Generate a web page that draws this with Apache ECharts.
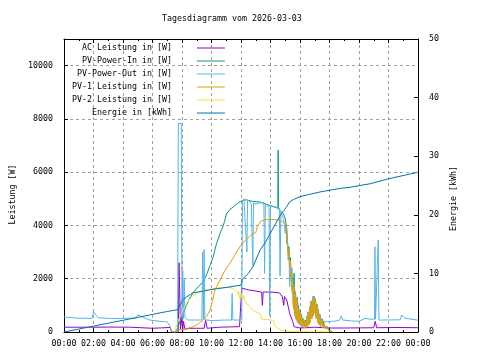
<!DOCTYPE html>
<html><head><meta charset="utf-8">
<script src="https://cdn.jsdelivr.net/npm/echarts@6/dist/echarts.min.js"></script>
<style>html,body{margin:0;padding:0;background:#fff}#c{width:480px;height:360px}</style>
</head><body><div id="c"></div>
<script>
const titleText = 'Tagesdiagramm vom 2026-03-03';
const seriesNames = ['AC Leistung in [W]','PV-Power-In in [W]','PV-Power-Out in [W]','PV-1 Leistung in [W]','PV-2 Leistung in [W]','Energie in [kWh]'];
const seriesColors = ['#9400d3','#009e73','#56b4e9','#e69f00','#f0e442','#0072b2'];
const xTickLabels = ['00:00','02:00','04:00','06:00','08:00','10:00','12:00','14:00','16:00','18:00','20:00','22:00','00:00'];
const leftAxisName = 'Leistung [W]';
const rightAxisName = 'Energie [kWh]';

// [hour, W]
const acPower = [[0,180],[2,180],[3,185],[4.5,180],[4.6,140],[6.0,140],[6.1,170],[7.2,170],[7.3,0],[7.75,0],[7.8,2600],[7.85,2550],[7.9,100],[8.0,600],[8.05,50],[8.1,400],[8.2,100],[8.5,140],[9.5,140],[9.6,450],[9.7,140],[10.5,180],[11.9,200],[12.0,200],[12.05,1650],[12.5,1580],[13.0,1540],[13.4,1500],[13.45,1000],[13.5,1500],[14.0,1500],[14.6,1470],[14.8,1330],[14.9,1000],[14.95,1330],[15.1,1200],[15.3,700],[15.5,400],[15.6,200],[16.0,150],[17.0,180],[18.0,150],[19.0,150],[21.0,160],[21.1,400],[21.2,160],[22.5,170],[22.6,140],[24,160]];
const pvIn = [[7.5,0],[7.64,75],[7.86,390],[8.0,600],[8.3,1000],[8.5,1250],[8.77,1480],[9.1,1700],[9.44,1890],[9.7,2200],[9.9,2500],[10.12,2830],[10.3,3250],[10.58,3700],[10.8,4000],[11.03,4450],[11.25,4600],[11.48,4700],[11.7,4800],[11.93,4890],[12.16,4950],[12.4,4960],[12.8,4900],[13.3,4880],[13.7,4800],[14.2,4700],[14.5,4650],[14.52,6830],[14.54,4620],[14.87,4450],[15.0,4250],[15.1,3900],[15.15,3400],[15.2,3000],[15.25,3200],[15.3,2600],[15.35,2800],[15.4,2100],[15.43,2400],[15.47,1600],[15.5,2000],[15.55,1000],[15.6,2200],[15.65,700],[15.7,1500],[15.75,500],[15.8,1300],[15.85,400],[15.9,1000],[15.95,350],[16.0,800],[16.05,300],[16.1,650],[16.15,250],[16.2,500],[16.3,200],[16.35,450],[16.4,200],[16.45,600],[16.5,250],[16.55,750],[16.6,300],[16.65,950],[16.7,400],[16.75,1150],[16.8,550],[16.85,1300],[16.9,650],[16.95,1350],[17.0,750],[17.05,1250],[17.1,550],[17.15,1050],[17.2,400],[17.25,850],[17.3,300],[17.35,650],[17.4,250],[17.5,500],[17.55,200],[17.6,380],[17.7,150],[17.8,230],[17.9,100],[18.0,120],[18.1,40],[18.2,0]];
const pvOut = [[0,560],[0.5,540],[1.0,520],[1.9,510],[2.0,760],[2.1,700],[2.3,540],[3.0,510],[4.0,510],[4.9,520],[5.0,640],[5.2,600],[5.5,520],[5.8,450],[6.5,400],[7.0,380],[7.2,200],[7.3,0],[7.7,0],[7.75,7830],[7.95,7830],[8.0,500],[8.05,2300],[8.1,500],[8.15,2000],[8.2,550],[8.4,450],[9.0,450],[9.35,450],[9.4,3000],[9.45,500],[9.5,3100],[9.55,460],[10.0,430],[11.0,450],[11.35,450],[11.4,1450],[11.45,450],[12.05,450],[12.1,4900],[12.2,5000],[12.3,4950],[12.4,3000],[12.45,4950],[12.6,4900],[12.7,4800],[12.8,2500],[12.85,4850],[13.0,4800],[13.3,4850],[13.55,4850],[13.6,2200],[13.65,4800],[13.9,4700],[13.95,600],[14.0,4750],[14.3,4700],[14.6,4650],[14.65,2100],[14.7,4500],[14.9,4200],[15.0,3700],[15.05,4000],[15.1,3300],[15.15,3500],[15.2,2700],[15.25,3000],[15.3,1700],[15.35,2600],[15.4,1900],[15.45,2400],[15.5,1400],[15.55,1800],[15.6,800],[15.65,1600],[15.7,500],[15.75,1300],[15.8,400],[15.85,1100],[15.9,300],[15.95,850],[16.0,250],[16.05,700],[16.1,200],[16.15,550],[16.2,200],[16.3,400],[16.4,200],[16.45,600],[16.5,250],[16.55,750],[16.6,300],[16.65,950],[16.7,400],[16.75,1150],[16.8,500],[16.85,1330],[16.9,650],[16.95,1350],[17.0,700],[17.05,1250],[17.1,550],[17.15,1050],[17.2,400],[17.25,850],[17.3,300],[17.35,650],[17.4,300],[17.5,500],[17.6,400],[17.7,420],[17.8,390],[18.0,390],[18.2,400],[18.5,420],[18.7,450],[18.8,600],[18.9,450],[19.4,420],[20.0,400],[20.4,510],[20.8,480],[21.05,480],[21.08,3200],[21.12,480],[21.25,480],[21.3,3450],[21.35,450],[22.0,450],[22.8,460],[22.9,640],[23.1,520],[23.9,450],[24,450]];
const pv1 = [[7.3,0],[7.6,30],[7.86,75],[8.3,130],[8.77,200],[9.1,300],[9.44,450],[9.7,620],[9.9,825],[10.05,1150],[10.24,1580],[10.58,1950],[10.9,2300],[11.25,2580],[11.6,2900],[11.93,3200],[12.3,3450],[12.6,3600],[12.83,3700],[13.0,3720],[13.1,3950],[13.3,4130],[13.5,4200],[13.97,4230],[14.3,4220],[14.64,4200],[14.98,4080],[15.1,3830],[15.15,3300],[15.2,2900],[15.25,3100],[15.3,2500],[15.35,2700],[15.4,2000],[15.43,2300],[15.47,1500],[15.5,1900],[15.55,900],[15.6,1700],[15.65,600],[15.7,1400],[15.75,450],[15.8,1200],[15.85,350],[15.9,900],[15.95,300],[16.0,750],[16.05,250],[16.1,600],[16.15,200],[16.2,450],[16.3,150],[16.35,400],[16.4,150],[16.45,550],[16.5,200],[16.55,700],[16.6,250],[16.65,900],[16.7,350],[16.75,1100],[16.8,500],[16.85,1250],[16.9,600],[16.95,1300],[17.0,700],[17.05,1200],[17.1,500],[17.15,1000],[17.2,350],[17.25,800],[17.3,250],[17.35,600],[17.4,200],[17.5,450],[17.55,150],[17.6,330],[17.7,120],[17.8,200],[17.9,80],[18.0,100],[18.1,30],[18.2,0]];
const pv2 = [[7.5,0],[7.6,200],[7.8,500],[8.0,750],[8.3,1080],[8.5,1220],[8.8,1390],[9.2,1500],[9.5,1560],[10.0,1620],[10.5,1660],[11.0,1680],[11.4,1650],[11.7,1560],[11.8,1400],[11.85,1520],[11.9,1250],[12.0,1450],[12.1,1200],[12.2,1380],[12.3,1100],[12.4,1150],[12.6,950],[12.8,830],[13.0,750],[13.3,690],[13.4,480],[13.9,460],[14.0,500],[14.2,430],[14.3,230],[14.5,150],[14.7,70],[15.0,20],[18.0,0]];
// [hour, kWh]
const energy = [[0,0],[1,0.5],[2,1.0],[3,1.5],[4,2.0],[5,2.5],[6,3.0],[7,3.5],[7.7,3.8],[8.0,5.2],[8.2,5.8],[8.5,6.3],[8.75,6.7],[9.5,7.0],[10.1,7.3],[11,7.6],[12.0,8.0],[12.1,9.0],[12.5,10.0],[12.8,11.1],[13.3,14.0],[13.7,15.5],[14.0,16.9],[14.3,18.3],[14.64,19.8],[15.1,21.4],[15.3,22.2],[15.55,22.6],[16.0,23.1],[16.5,23.4],[17.36,23.9],[18.7,24.5],[19.4,24.7],[20.75,25.3],[22.1,26.2],[23.9,27.2],[24,27.3]];

const seriesData = [acPower, pvIn, pvOut, pv1, pv2, energy];
const FONT = 'DejaVu Sans Mono';
const FS = 8.3;
const txt = {fontFamily: FONT, fontSize: FS, color: '#000'};

const chart = echarts.init(document.getElementById('c'), null, {renderer: 'canvas'});
const axisLine = {show: true, onZero: false, lineStyle: {color: '#000', width: 1}};
const tick = {show: true, inside: true, length: 4, lineStyle: {color: '#000', width: 1}};
const grid = {show: true, lineStyle: {color: '#a0a0a0', width: 1, type: [3, 3]}};

chart.setOption({
  animation: false,
  backgroundColor: '#fff',
  title: {text: titleText, left: 157, top: 10, textStyle: Object.assign({fontWeight: 'normal'}, txt)},
  legend: {
    orient: 'vertical', left: 67, top: 38, itemWidth: 28, itemHeight: 10, itemGap: 3,
    align: 'right', selectedMode: false, data: seriesNames,
    itemStyle: {opacity: 0, borderWidth: 0},
    lineStyle: {width: 1},
    textStyle: Object.assign({lineHeight: 10}, txt),
    formatter: n => n.padStart(20, ' ') + '    '
  },
  grid: {left: 64, right: 62, top: 39, bottom: 28, containLabel: false},
  xAxis: [
    {type: 'value', min: 0, max: 24, interval: 2, position: 'bottom',
     axisLine, axisTick: tick, minorTick: {show: true, splitNumber: 2, length: 2, lineStyle: {color: '#000'}},
     axisLabel: Object.assign({margin: 8, formatter: v => xTickLabels[Math.round(v / 2)]}, txt),
     splitLine: grid},
    {type: 'value', min: 0, max: 24, interval: 2, position: 'top',
     axisLine, axisTick: tick, minorTick: {show: true, splitNumber: 2, length: 2, lineStyle: {color: '#000'}},
     axisLabel: {show: false}, splitLine: {show: false}}
  ],
  yAxis: [
    {type: 'value', min: 0, max: 11000, interval: 2000, position: 'left',
     name: leftAxisName, nameLocation: 'middle', nameGap: 47, nameRotate: 90,
     nameTextStyle: Object.assign({padding: [0, 18, 0, 0]}, txt),
     axisLine, axisTick: tick,
     axisLabel: Object.assign({margin: 11, showMaxLabel: false, formatter: v => String(v)}, txt),
     splitLine: grid},
    {type: 'value', min: 0, max: 50, interval: 10, position: 'right',
     name: rightAxisName, nameLocation: 'middle', nameGap: 30, nameRotate: 90,
     nameTextStyle: Object.assign({padding: [0, 26, 0, 0]}, txt),
     axisLine, axisTick: tick,
     axisLabel: Object.assign({margin: 11, formatter: v => String(v)}, txt),
     splitLine: {show: false}}
  ],
  series: seriesNames.map((name, i) => ({
    name, type: 'line', data: seriesData[i], yAxisIndex: i === 5 ? 1 : 0,
    symbol: 'none', showSymbol: false, color: seriesColors[i],
    lineStyle: {width: 1, color: seriesColors[i]}, silent: true
  }))
});
</script></body></html>
